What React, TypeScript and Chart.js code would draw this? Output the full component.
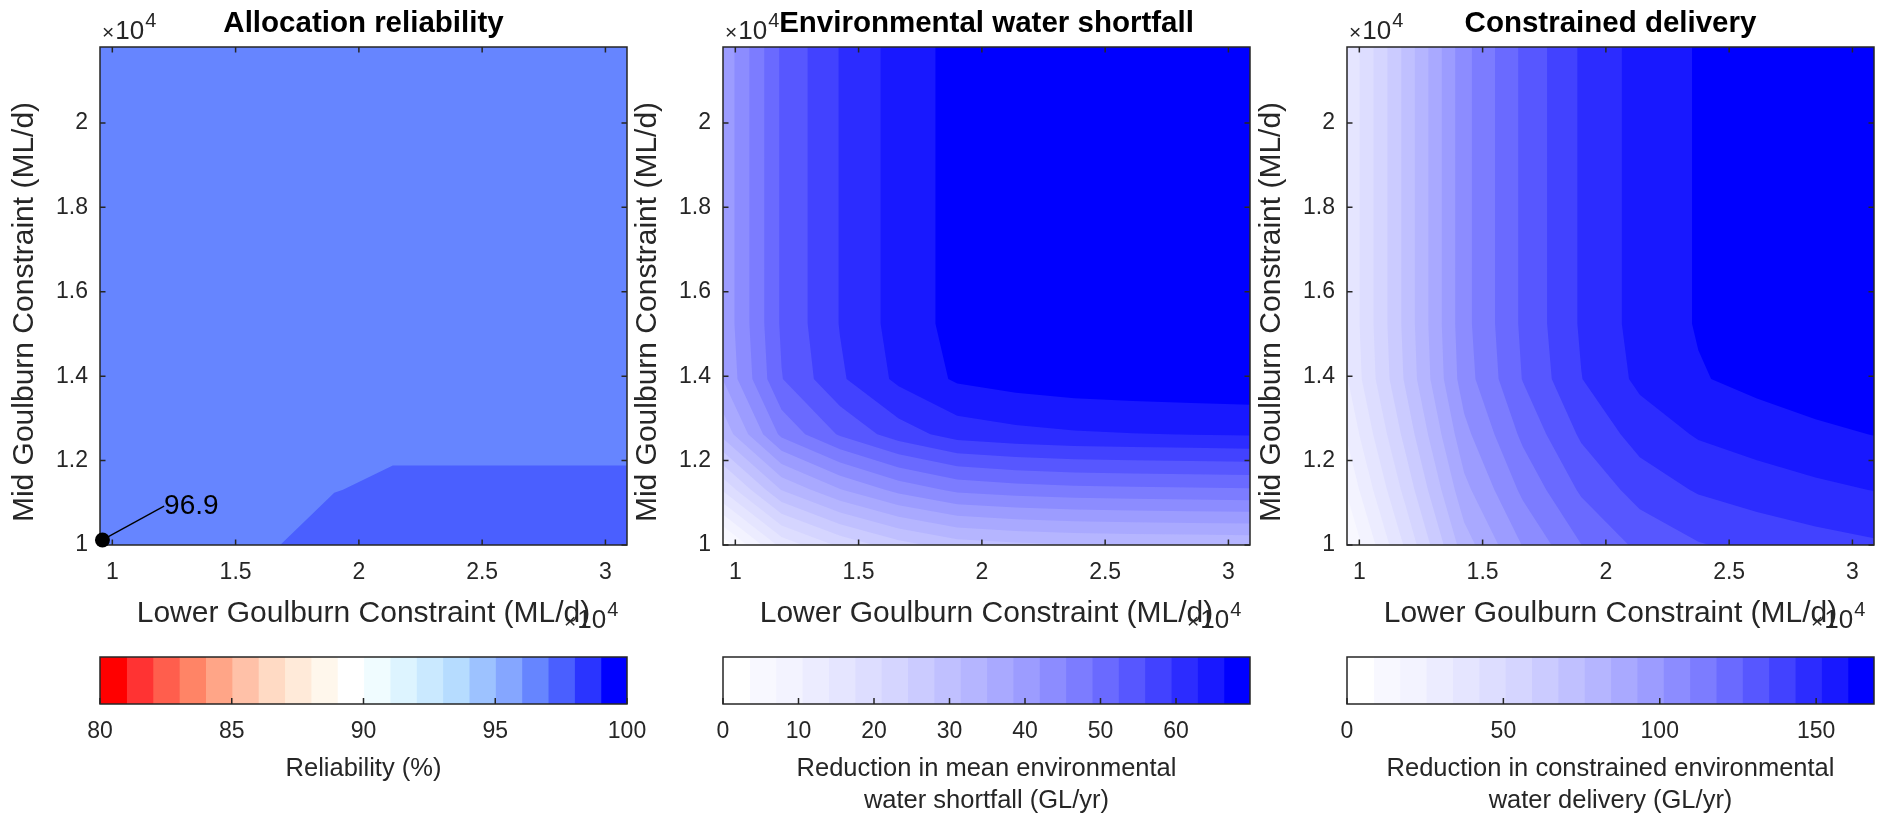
import React, { useEffect, useRef } from 'react';
import { Chart, registerables } from 'chart.js';

Chart.register(...registerables);

// ---------------- data ----------------
const lowerGoulburn = [9500, 11875, 14250, 16625, 19000, 21375, 23750, 26125, 28500, 30875];
const midGoulburn = [10000, 11311, 12622, 13933, 15244, 16556, 17867, 19178, 20489, 21800];
const lowerTicks = [10000, 15000, 20000, 25000, 30000];
const midTicks = [10000, 12000, 14000, 16000, 18000, 20000];

// rows follow midGoulburn, columns follow lowerGoulburn
const reliability = [
  [96.9, 96.93, 96.96, 96.99, 97.12, 97.15, 97.15, 97.15, 97.15, 97.15],
  [96.9, 96.92, 96.94, 96.96, 96.993, 97.04, 97.04, 97.04, 97.04, 97.04],
  [96.9, 96.91, 96.92, 96.93, 96.94, 96.948, 96.948, 96.948, 96.948, 96.948],
  [96.9, 96.9, 96.91, 96.91, 96.92, 96.92, 96.92, 96.92, 96.92, 96.92],
  [96.9, 96.9, 96.91, 96.91, 96.92, 96.92, 96.92, 96.92, 96.92, 96.92],
  [96.9, 96.9, 96.91, 96.91, 96.92, 96.92, 96.92, 96.92, 96.92, 96.92],
  [96.9, 96.9, 96.91, 96.91, 96.92, 96.92, 96.92, 96.92, 96.92, 96.92],
  [96.9, 96.9, 96.91, 96.91, 96.92, 96.92, 96.92, 96.92, 96.92, 96.92],
  [96.9, 96.9, 96.91, 96.91, 96.92, 96.92, 96.92, 96.92, 96.92, 96.92],
  [96.9, 96.9, 96.91, 96.91, 96.92, 96.92, 96.92, 96.92, 96.92, 96.92],
];

const shortfallReduction = [
  [1.4, 15.1, 21.7, 26.5, 29.7, 30.7, 31.3, 31.6, 31.8, 32.0],
  [17.9, 31.6, 38.2, 43.0, 46.2, 47.2, 47.8, 48.1, 48.3, 48.5],
  [32.5, 46.2, 52.8, 57.6, 60.8, 61.8, 62.4, 62.7, 62.9, 63.1],
  [38.5, 52.2, 58.8, 63.6, 66.8, 67.8, 68.4, 68.7, 68.9, 69.1],
  [39.2, 52.9, 59.5, 64.3, 67.5, 68.5, 69.1, 69.4, 69.6, 69.8],
  [39.2, 52.9, 59.5, 64.3, 67.5, 68.5, 69.1, 69.4, 69.6, 69.8],
  [39.2, 52.9, 59.5, 64.3, 67.5, 68.5, 69.1, 69.4, 69.6, 69.8],
  [39.2, 52.9, 59.5, 64.3, 67.5, 68.5, 69.1, 69.4, 69.6, 69.8],
  [39.2, 52.9, 59.5, 64.3, 67.5, 68.5, 69.1, 69.4, 69.6, 69.8],
  [39.2, 52.9, 59.5, 64.3, 67.5, 68.5, 69.1, 69.4, 69.6, 69.8],
];

const deliveryReduction = [
  [8.0, 43.5, 80.2, 101.5, 117.8, 128.4, 134.2, 137.3, 139.9, 142.0],
  [17.9, 53.4, 90.1, 111.4, 127.7, 138.3, 144.1, 147.2, 149.8, 151.9],
  [26.3, 61.8, 98.5, 119.8, 136.1, 146.7, 152.5, 155.6, 158.2, 160.3],
  [33.2, 68.7, 105.4, 126.7, 143.0, 153.6, 159.4, 162.5, 165.1, 167.2],
  [34.5, 70.0, 106.7, 128.0, 144.3, 154.9, 160.7, 163.8, 166.4, 168.5],
  [34.5, 70.0, 106.7, 128.0, 144.3, 154.9, 160.7, 163.8, 166.4, 168.5],
  [34.5, 70.0, 106.7, 128.0, 144.3, 154.9, 160.7, 163.8, 166.4, 168.5],
  [34.5, 70.0, 106.7, 128.0, 144.3, 154.9, 160.7, 163.8, 166.4, 168.5],
  [34.5, 70.0, 106.7, 128.0, 144.3, 154.9, 160.7, 163.8, 166.4, 168.5],
  [34.5, 70.0, 106.7, 128.0, 144.3, 154.9, 160.7, 163.8, 166.4, 168.5],
];

const reliabilityRange = [80, 100];
const shortfallRange = [0, 69.8];
const deliveryRange = [0, 168.5];
const reliabilityBarTicks = [80, 85, 90, 95, 100];
const shortfallBarTicks = [0, 10, 20, 30, 40, 50, 60];
const deliveryBarTicks = [0, 50, 100, 150];

const markedPoint = { x: 9600, y: 10120 };
const markedLabelAt = { x: 12100, y: 10920 };
const markedLabel = '96.9';

// ---------------- styles ----------------
const redBlue = [
  '#FF0000', '#FF3333', '#FF5E4D', '#FF8466', '#FFA587', '#FFC1A8', '#FFDAC4', '#FFEAD9', '#FFF7EC', '#FFFFFF',
  '#F0FCFF', '#DDF4FF', '#CAE9FF', '#B6DCFF', '#9DC2FF', '#85A6FF', '#6685FF', '#4A5FFF', '#2A34FF', '#0000FF',
];
const whiteBlue = [
  '#FFFFFF', '#F8F8FF', '#F3F3FF', '#ECECFF', '#E5E5FF', '#DDDDFF', '#D5D5FF', '#CBCBFF', '#C0C0FF', '#B5B5FF',
  '#A9A9FF', '#9C9CFF', '#8C8CFF', '#7C7CFF', '#6A6AFF', '#5757FF', '#4242FF', '#2C2CFF', '#1818FF', '#0000FF',
];

const FONT = '"Liberation Sans", Arial, Helvetica, sans-serif';
const INK = '#262626';
const TICK_SIZE = 23;
const LABEL_SIZE = 30;
const PLOT_W = 527;
const SIDE = 100;
const CANVAS_W = PLOT_W + 2 * SIDE;
const PANEL_H = 640;
const PLOT_TOP = 47;
const PLOT_BOTTOM = 545;
const BAR_PAGE_TOP = 600;
const BAR_H = 217;
const BAR_TOP = 57;
const BAR_BOTTOM = 104;
const TICK_LEN = 5.5;

const X_LABEL = 'Lower Goulburn Constraint (ML/d)';
const Y_LABEL = 'Mid Goulburn Constraint (ML/d)';

const panels = [
  {
    left: 100,
    title: 'Allocation reliability',
    z: reliability,
    range: reliabilityRange,
    palette: redBlue,
    barTicks: reliabilityBarTicks,
    barLabel: ['Reliability (%)'],
    marked: true,
  },
  {
    left: 723,
    title: 'Environmental water shortfall',
    z: shortfallReduction,
    range: shortfallRange,
    palette: whiteBlue,
    barTicks: shortfallBarTicks,
    barLabel: ['Reduction in mean environmental', 'water shortfall (GL/yr)'],
    marked: false,
  },
  {
    left: 1347,
    title: 'Constrained delivery',
    z: deliveryReduction,
    range: deliveryRange,
    palette: whiteBlue,
    barTicks: deliveryBarTicks,
    barLabel: ['Reduction in constrained environmental', 'water delivery (GL/yr)'],
    marked: false,
  },
];

const fmt = (v: number) => String(Math.round(v * 10) / 10);

function drawExponent(ctx: CanvasRenderingContext2D, x: number, y: number) {
  ctx.textAlign = 'left';
  ctx.textBaseline = 'alphabetic';
  ctx.font = `21px ${FONT}`;
  ctx.fillText('\u00D7', x, y);
  let w = ctx.measureText('\u00D7').width;
  ctx.font = `26px ${FONT}`;
  ctx.fillText('10', x + w + 1, y);
  w += ctx.measureText('10').width + 2;
  ctx.font = `20px ${FONT}`;
  ctx.fillText('4', x + w, y - 12);
}

function makeContourPlugin(p: any) {
  return {
    id: 'contourFill',
    beforeDatasetsDraw(chart: any) {
      const { ctx, chartArea: a } = chart;
      const xs = chart.scales.x;
      const ys = chart.scales.y;
      const z: number[][] = p.z;
      const [lo, hi] = p.range;
      const n = p.palette.length;
      const step = (hi - lo) / n;
      let zmin = Infinity;
      z.forEach((r) => r.forEach((v) => { if (v < zmin) zmin = v; }));
      const base = Math.max(0, Math.min(n - 1, Math.floor((zmin - lo) / step)));
      ctx.save();
      ctx.beginPath();
      ctx.rect(a.left, a.top, a.right - a.left, a.bottom - a.top);
      ctx.clip();
      ctx.fillStyle = p.palette[base];
      ctx.fillRect(a.left, a.top, a.right - a.left, a.bottom - a.top);
      for (let k = base + 1; k < n; k++) {
        const level = lo + k * step;
        ctx.beginPath();
        let any = false;
        for (let j = 0; j < midGoulburn.length - 1; j++) {
          for (let i = 0; i < lowerGoulburn.length - 1; i++) {
            const corners = [[i, j], [i + 1, j], [i + 1, j + 1], [i, j + 1]];
            const pts: number[][] = [];
            for (let c = 0; c < 4; c++) {
              const [ci, cj] = corners[c];
              const [ni, nj] = corners[(c + 1) % 4];
              const za = z[cj][ci];
              const zb = z[nj][ni];
              const xa = lowerGoulburn[ci];
              const ya = midGoulburn[cj];
              if (za >= level) pts.push([xa, ya]);
              if ((za >= level) !== (zb >= level)) {
                const t = (level - za) / (zb - za);
                pts.push([xa + t * (lowerGoulburn[ni] - xa), ya + t * (midGoulburn[nj] - ya)]);
              }
            }
            if (pts.length >= 3) {
              any = true;
              pts.forEach((pt, idx) => {
                const px = xs.getPixelForValue(pt[0]);
                const py = ys.getPixelForValue(pt[1]);
                if (idx === 0) ctx.moveTo(px, py);
                else ctx.lineTo(px, py);
              });
              ctx.closePath();
            }
          }
        }
        if (any) {
          ctx.fillStyle = p.palette[k];
          ctx.fill();
        }
      }
      ctx.restore();

      // axes box with inward ticks
      ctx.save();
      ctx.strokeStyle = INK;
      ctx.lineWidth = 1.5;
      ctx.strokeRect(a.left, a.top, a.right - a.left, a.bottom - a.top);
      ctx.beginPath();
      lowerTicks.forEach((v) => {
        const px = xs.getPixelForValue(v);
        ctx.moveTo(px, a.bottom);
        ctx.lineTo(px, a.bottom - TICK_LEN);
        ctx.moveTo(px, a.top);
        ctx.lineTo(px, a.top + TICK_LEN);
      });
      midTicks.forEach((v) => {
        const py = ys.getPixelForValue(v);
        ctx.moveTo(a.left, py);
        ctx.lineTo(a.left + TICK_LEN, py);
        ctx.moveTo(a.right, py);
        ctx.lineTo(a.right - TICK_LEN, py);
      });
      ctx.stroke();
      ctx.restore();
    },
    afterDraw(chart: any) {
      const { ctx, chartArea: a } = chart;
      const cx = (a.left + a.right) / 2;
      const cy = (a.top + a.bottom) / 2;
      ctx.save();
      ctx.fillStyle = INK;
      drawExponent(ctx, a.left + 2, 39);
      drawExponent(ctx, a.right - 63, a.bottom + 83);
      ctx.font = `${LABEL_SIZE}px ${FONT}`;
      ctx.textAlign = 'center';
      ctx.textBaseline = 'alphabetic';
      ctx.fillText(X_LABEL, cx, a.bottom + 77);
      ctx.save();
      ctx.translate(a.left - 75, cy + 16);
      ctx.rotate(-Math.PI / 2);
      ctx.textBaseline = 'middle';
      ctx.fillText(Y_LABEL, 0, 0);
      ctx.restore();
      ctx.fillStyle = '#000';
      ctx.font = `bold 29.5px ${FONT}`;
      ctx.textAlign = 'center';
      ctx.textBaseline = 'alphabetic';
      ctx.fillText(p.title, cx, 32);
      if (p.marked) {
        ctx.font = `28px ${FONT}`;
        ctx.textAlign = 'left';
        ctx.textBaseline = 'middle';
        ctx.fillText(
          markedLabel,
          chart.scales.x.getPixelForValue(markedLabelAt.x),
          chart.scales.y.getPixelForValue(markedLabelAt.y)
        );
      }
      ctx.restore();
    },
  };
}

function ContourPanel({ p }: { p: any }) {
  const ref = useRef<HTMLCanvasElement>(null);
  useEffect(() => {
    const canvas = ref.current;
    if (!canvas) return;
    const datasets: any[] = p.marked
      ? [
          {
            data: [markedPoint, markedLabelAt],
            showLine: true,
            borderColor: '#000',
            borderWidth: 1.3,
            pointRadius: [7.5, 0],
            pointBackgroundColor: '#000',
            pointBorderColor: '#000',
            pointBorderWidth: 0,
            clip: false,
          },
        ]
      : [];
    const chart = new Chart(canvas, {
      type: 'scatter',
      data: { datasets },
      options: {
        responsive: false,
        animation: false,
        events: [],
        devicePixelRatio: 1,
        layout: { padding: { left: 0, right: SIDE, top: PLOT_TOP, bottom: 0 } },
        plugins: { legend: { display: false }, tooltip: { enabled: false }, title: { display: false } },
        scales: {
          x: {
            type: 'linear',
            min: lowerGoulburn[0],
            max: lowerGoulburn[lowerGoulburn.length - 1],
            bounds: 'data',
            grid: { display: false, drawTicks: false },
            border: { display: false },
            ticks: {
              font: { family: FONT, size: TICK_SIZE },
              color: INK,
              padding: 14,
              autoSkip: false,
              maxRotation: 0,
              callback: (v: any) => fmt(Number(v) / 10000),
            },
            afterBuildTicks: (s: any) => { s.ticks = lowerTicks.map((v) => ({ value: v })); },
            afterFit: (s: any) => { s.height = PANEL_H - PLOT_BOTTOM; },
          },
          y: {
            type: 'linear',
            min: midGoulburn[0],
            max: midGoulburn[midGoulburn.length - 1],
            bounds: 'data',
            grid: { display: false, drawTicks: false },
            border: { display: false },
            ticks: {
              font: { family: FONT, size: TICK_SIZE },
              color: INK,
              padding: 12,
              autoSkip: false,
              callback: (v: any) => fmt(Number(v) / 10000),
            },
            afterBuildTicks: (s: any) => { s.ticks = midTicks.map((v) => ({ value: v })); },
            afterFit: (s: any) => { s.width = SIDE; },
          },
        },
      } as any,
      plugins: [makeContourPlugin(p)],
    });
    return () => chart.destroy();
  }, []);
  return (
    <canvas
      ref={ref}
      width={CANVAS_W}
      height={PANEL_H}
      style={{ position: 'absolute', left: p.left - SIDE, top: 0, width: CANVAS_W, height: PANEL_H }}
    />
  );
}

function makeBarPlugin(p: any) {
  return {
    id: 'colorbarFrame',
    afterDatasetsDraw(chart: any) {
      const { ctx, chartArea: a } = chart;
      const xs = chart.scales.x;
      ctx.save();
      ctx.strokeStyle = INK;
      ctx.lineWidth = 1.5;
      ctx.strokeRect(a.left, a.top, a.right - a.left, a.bottom - a.top);
      ctx.beginPath();
      p.barTicks.forEach((v: number) => {
        const px = xs.getPixelForValue(v);
        ctx.moveTo(px, a.bottom);
        ctx.lineTo(px, a.bottom - 6);
      });
      ctx.stroke();
      ctx.restore();
    },
    afterDraw(chart: any) {
      const { ctx, chartArea: a } = chart;
      const cx = (a.left + a.right) / 2;
      ctx.save();
      ctx.fillStyle = INK;
      ctx.font = `25.5px ${FONT}`;
      ctx.textAlign = 'center';
      ctx.textBaseline = 'alphabetic';
      p.barLabel.forEach((line: string, i: number) => {
        ctx.fillText(line, cx, a.bottom + 72 + i * 32);
      });
      ctx.restore();
    },
  };
}

function ColorBar({ p }: { p: any }) {
  const ref = useRef<HTMLCanvasElement>(null);
  useEffect(() => {
    const canvas = ref.current;
    if (!canvas) return;
    const [lo, hi] = p.range;
    const step = (hi - lo) / p.palette.length;
    const chart = new Chart(canvas, {
      type: 'bar',
      data: {
        labels: [''],
        datasets: p.palette.map((c: string, k: number) => ({
          data: [[lo + k * step, lo + (k + 1) * step]],
          backgroundColor: c,
          borderWidth: 0,
          grouped: false,
          barPercentage: 1,
          categoryPercentage: 1,
          inflateAmount: 0.6,
        })),
      },
      options: {
        indexAxis: 'y',
        responsive: false,
        animation: false,
        events: [],
        devicePixelRatio: 1,
        layout: { padding: { left: SIDE, right: SIDE, top: BAR_TOP, bottom: 0 } },
        plugins: { legend: { display: false }, tooltip: { enabled: false }, title: { display: false } },
        scales: {
          x: {
            type: 'linear',
            min: lo,
            max: hi,
            bounds: 'data',
            beginAtZero: false,
            grid: { display: false, drawTicks: false },
            border: { display: false },
            ticks: {
              font: { family: FONT, size: TICK_SIZE },
              color: INK,
              padding: 14,
              autoSkip: false,
              maxRotation: 0,
              callback: (v: any) => String(v),
            },
            afterBuildTicks: (s: any) => { s.ticks = p.barTicks.map((v: number) => ({ value: v })); },
            afterFit: (s: any) => { s.height = BAR_H - BAR_BOTTOM; },
          },
          y: { display: false },
        },
      } as any,
      plugins: [makeBarPlugin(p)],
    });
    return () => chart.destroy();
  }, []);
  return (
    <canvas
      ref={ref}
      width={CANVAS_W}
      height={BAR_H}
      style={{ position: 'absolute', left: p.left - SIDE, top: BAR_PAGE_TOP, width: CANVAS_W, height: BAR_H }}
    />
  );
}

export default function App() {
  return (
    <div
      style={{
        position: 'absolute',
        left: 0,
        top: 0,
        width: 1890,
        height: 817,
        overflow: 'hidden',
        background: '#ffffff',
      }}
    >
      {panels.map((p, i) => (
        <React.Fragment key={i}>
          <ColorBar p={p} />
          <ContourPanel p={p} />
        </React.Fragment>
      ))}
    </div>
  );
}
